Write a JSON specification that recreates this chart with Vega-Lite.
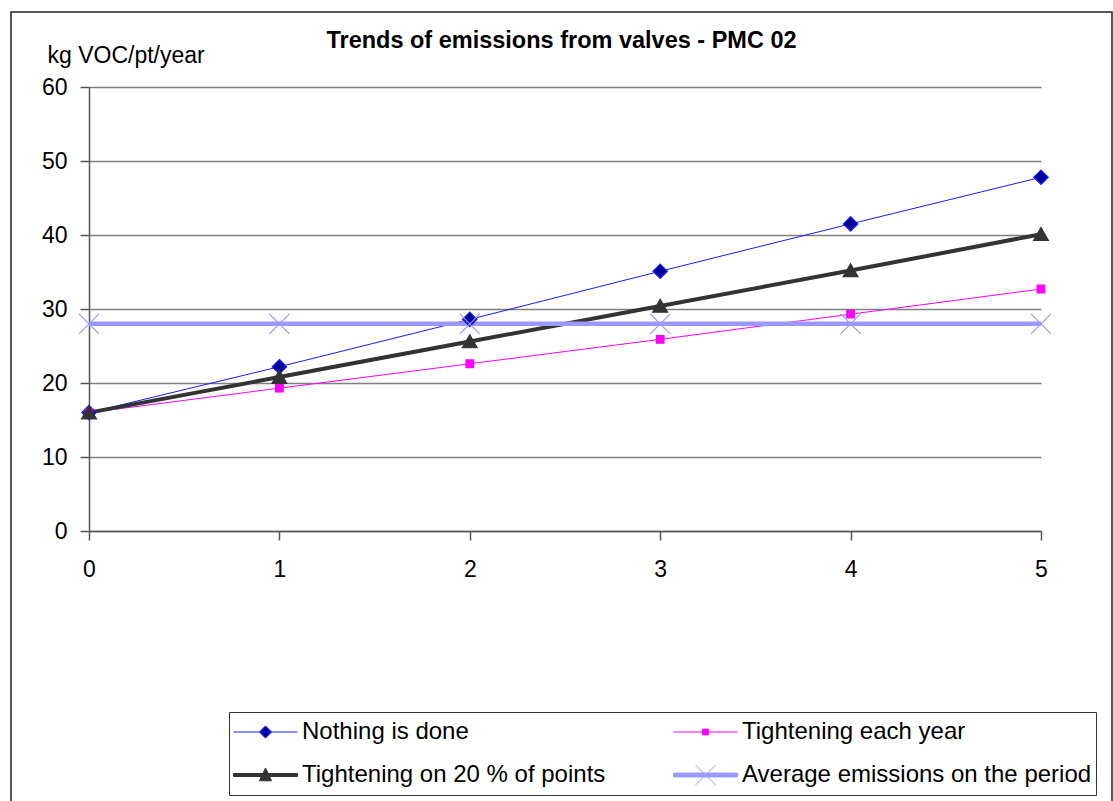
{
  "$schema": "https://vega.github.io/schema/vega-lite/v6.json",
  "width": 1101,
  "height": 800,
  "autosize": {"type": "none"},
  "padding": {"left": 11, "top": 12, "right": 1, "bottom": 0},
  "background": "#ffffff",
  "title": {
    "text": "Trends of emissions from valves - PMC 02",
    "anchor": "middle",
    "frame": "group",
    "baseline": "alphabetic",
    "offset": -59,
    "font": "Liberation Sans",
    "fontSize": 23.5,
    "fontWeight": "bold",
    "color": "#000000"
  },
  "config": {
    "view": {"stroke": "#222222", "strokeWidth": 1.5},
    "axis": {
      "labelFont": "Liberation Sans",
      "labelFontSize": 23,
      "labelColor": "#000000",
      "titleFont": "Liberation Sans",
      "titleColor": "#000000",
      "domainColor": "#555555",
      "domainWidth": 1.5,
      "tickColor": "#555555",
      "tickWidth": 1.5,
      "tickSize": 9,
      "gridColor": "#808080",
      "gridWidth": 1.5
    },
    "legend": {
      "title": null,
      "orient": "none",
      "legendX": 218,
      "legendY": 700,
      "direction": "horizontal",
      "columns": 2,
      "columnPadding": 67,
      "rowPadding": 11,
      "padding": 4,
      "strokeColor": "#333333",
      "fillColor": "#ffffff",
      "symbolSize": 4096,
      "symbolStrokeWidth": 1,
      "labelFont": "Liberation Sans",
      "labelFontSize": 24,
      "labelColor": "#000000",
      "labelOffset": 4,
      "labelLimit": 600,
      "clipHeight": 32
    }
  },
  "data": {
    "values": [
      {"year": 0, "series": "Nothing is done", "value": 16},
      {"year": 1, "series": "Nothing is done", "value": 22.2},
      {"year": 2, "series": "Nothing is done", "value": 28.6},
      {"year": 3, "series": "Nothing is done", "value": 35.1},
      {"year": 4, "series": "Nothing is done", "value": 41.5},
      {"year": 5, "series": "Nothing is done", "value": 47.8},
      {"year": 0, "series": "Tightening each year", "value": 16},
      {"year": 1, "series": "Tightening each year", "value": 19.3},
      {"year": 2, "series": "Tightening each year", "value": 22.6},
      {"year": 3, "series": "Tightening each year", "value": 25.9},
      {"year": 4, "series": "Tightening each year", "value": 29.3},
      {"year": 5, "series": "Tightening each year", "value": 32.7},
      {"year": 0, "series": "Tightening on 20 % of points", "value": 16},
      {"year": 1, "series": "Tightening on 20 % of points", "value": 20.8},
      {"year": 2, "series": "Tightening on 20 % of points", "value": 25.6},
      {"year": 3, "series": "Tightening on 20 % of points", "value": 30.4},
      {"year": 4, "series": "Tightening on 20 % of points", "value": 35.2},
      {"year": 5, "series": "Tightening on 20 % of points", "value": 40.1},
      {"year": 0, "series": "Average emissions on the period", "value": 28},
      {"year": 1, "series": "Average emissions on the period", "value": 28},
      {"year": 2, "series": "Average emissions on the period", "value": 28},
      {"year": 3, "series": "Average emissions on the period", "value": 28},
      {"year": 4, "series": "Average emissions on the period", "value": 28},
      {"year": 5, "series": "Average emissions on the period", "value": 28}
    ]
  },
  "encoding": {
    "x": {
      "field": "year",
      "type": "quantitative",
      "scale": {"domain": [0, 5], "range": [78, 1030], "nice": false, "zero": false},
      "axis": {
        "orient": "bottom",
        "offset": -281,
        "values": [0, 1, 2, 3, 4, 5],
        "format": "d",
        "grid": false,
        "labelAngle": 0,
        "labelFlush": false,
        "labelPadding": 18,
        "title": null
      }
    },
    "y": {
      "field": "value",
      "type": "quantitative",
      "scale": {"domain": [0, 60], "range": [519, 75], "nice": false},
      "axis": {
        "orient": "left",
        "offset": -78,
        "values": [0, 10, 20, 30, 40, 50, 60],
        "grid": true,
        "labelPadding": 13,
        "title": "kg VOC/pt/year",
        "titleAngle": 0,
        "titleAlign": "left",
        "titleBaseline": "alphabetic",
        "titleX": -42,
        "titleY": 50,
        "titleFontSize": 23,
        "titleFontWeight": "normal"
      }
    }
  },
  "layer": [
    {
      "transform": [{"filter": "datum.series === 'Nothing is done'"}],
      "mark": {"type": "line", "stroke": "#1a1aff", "strokeWidth": 1}
    },
    {
      "transform": [{"filter": "datum.series === 'Tightening each year'"}],
      "mark": {"type": "line", "stroke": "#ff00ff", "strokeWidth": 1}
    },
    {
      "transform": [{"filter": "datum.series === 'Tightening on 20 % of points'"}],
      "mark": {"type": "line", "stroke": "#333333", "strokeWidth": 4}
    },
    {
      "transform": [{"filter": "datum.series === 'Average emissions on the period'"}],
      "mark": {"type": "line", "stroke": "#9999ff", "strokeWidth": 4.5}
    },
    {
      "mark": {
        "type": "point",
        "filled": true,
        "size": 400,
        "strokeWidth": 1.2,
        "opacity": 1,
        "shape": {"expr": "datum.series ? (datum.series === 'Nothing is done' ? 'M0,-0.72L0.72,0L0,0.72L-0.72,0Z' : datum.series === 'Tightening each year' ? 'M-0.38,-0.38H0.38V0.38H-0.38Z' : datum.series === 'Tightening on 20 % of points' ? 'M0,-0.68L0.74,0.62L-0.74,0.62Z' : 'M-1,-1L1,1M-1,1L1,-1') : (datum.value === 'Nothing is done' ? 'M-1,0H1M0,-0.19L0.19,0L0,0.19L-0.19,0Z' : datum.value === 'Tightening each year' ? 'M-1,0H1M-0.09,-0.09H0.09V0.09H-0.09Z' : datum.value === 'Tightening on 20 % of points' ? 'M-1,-0.047H1V0.047H-1ZM0,-0.22L0.19,0.18L-0.19,0.18Z' : 'M-1,-0.06H1V0.06H-1ZM-0.31,-0.31L0.31,0.31M-0.31,0.31L0.31,-0.31')"}
      },
      "encoding": {
        "fill": {
          "field": "series",
          "type": "nominal",
          "scale": {
            "domain": ["Nothing is done", "Tightening each year", "Tightening on 20 % of points", "Average emissions on the period"],
            "range": ["#000099", "#ff00ff", "#333333", "#9999ff"]
          }
        },
        "stroke": {
          "field": "series",
          "type": "nominal",
          "scale": {
            "domain": ["Nothing is done", "Tightening each year", "Tightening on 20 % of points", "Average emissions on the period"],
            "range": ["#1a1aff", "#ff00ff", "#333333", "#9999ff"]
          }
        }
      }
    }
  ]
}
